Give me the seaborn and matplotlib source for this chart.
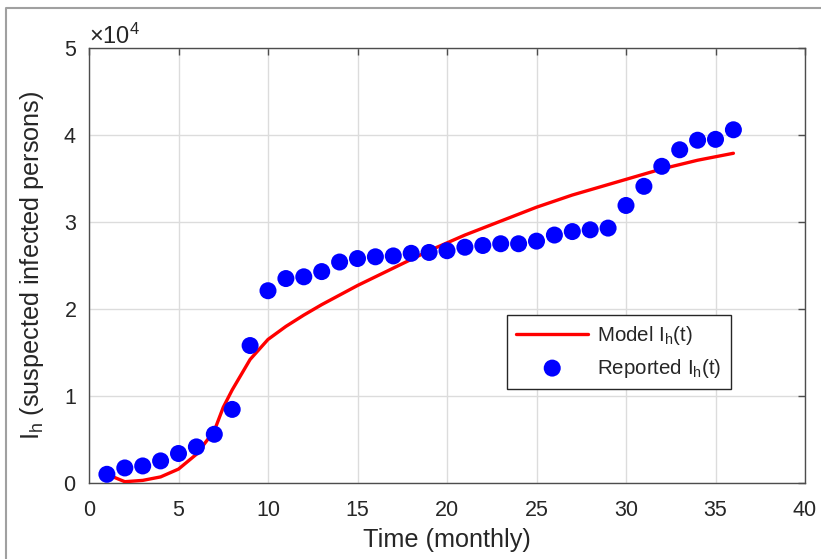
import numpy as np
import pandas as pd
import matplotlib
matplotlib.use("Agg")
import matplotlib.pyplot as plt
import seaborn as sns
from matplotlib.ticker import ScalarFormatter
from matplotlib.lines import Line2D

# ---- data ----
months = list(range(1, 37))
reported = [1000, 1730, 1960, 2540, 3390, 4150, 5600, 8460, 15800, 22100,
            23500, 23700, 24300, 25400, 25800, 26000, 26100, 26400, 26500, 26700,
            27100, 27300, 27500, 27500, 27800, 28500, 28900, 29100, 29300, 31900,
            34100, 36400, 38300, 39400, 39500, 40600]
model_t = [1, 2, 3, 4, 5, 6, 7, 7.5, 8, 9, 10, 11, 12, 13, 14, 15, 16, 17, 18, 19,
           20, 21, 22, 23, 24, 25, 26, 27, 28, 29, 30, 31, 32, 33, 34, 35, 36]
model = [1000, 150, 300, 700, 1600, 3300, 6000, 8700, 10700, 14200, 16500, 18000,
         19300, 20500, 21600, 22700, 23700, 24700, 25700, 26700, 27600, 28500,
         29300, 30100, 30900, 31700, 32400, 33100, 33700, 34300, 34900, 35500,
         36100, 36600, 37100, 37500, 37900]
xticks = [0, 5, 10, 15, 20, 25, 30, 35, 40]
yticks = [0, 10000, 20000, 30000, 40000, 50000]

sns.set_style("white")
FONT = 'Liberation Sans'
plt.rcParams['font.family'] = [FONT, 'DejaVu Sans']
plt.rcParams['mathtext.fontset'] = 'custom'
plt.rcParams['mathtext.rm'] = FONT
plt.rcParams['mathtext.it'] = FONT
plt.rcParams['mathtext.bf'] = FONT
txt = '#262626'

fig = plt.figure(figsize=(8.21, 5.59), dpi=100)
ax = fig.add_axes([89/821, 1 - 483/559, (805 - 89)/821, (483 - 48)/559])

df_model = pd.DataFrame({'t': model_t, 'I': model})
df_rep = pd.DataFrame({'t': months, 'I': reported})

sns.lineplot(data=df_model, x='t', y='I', ax=ax, color='#ff0000', lw=2.4,
             label=r'Model I$_\mathregular{h}$(t)', zorder=3)
sns.scatterplot(data=df_rep, x='t', y='I', ax=ax, color='#0000ff', s=150,
                edgecolor='none', label=r'Reported I$_\mathregular{h}$(t)', zorder=4)

ax.set_xlim(0, 40)
ax.set_ylim(0, 50000)
ax.set_xticks(xticks)
ax.set_yticks(yticks)
fmt = ScalarFormatter(useMathText=True)
fmt.set_powerlimits((0, 0))
ax.yaxis.set_major_formatter(fmt)
ax.yaxis.get_offset_text().set_fontsize(17)
ax.yaxis.get_offset_text().set_color(txt)

ax.grid(True, color='#dcdcdc', lw=1.0)
ax.set_axisbelow(True)
for s in ax.spines.values():
    s.set_color('#4d4d4d')
    s.set_linewidth(1.0)
ax.tick_params(direction='in', top=True, right=True, length=5, width=1.0,
               color='#4d4d4d', labelsize=15.5, labelcolor=txt, pad=9)
ax.tick_params(axis='x', pad=12)

ax.set_xlabel('Time (monthly)', fontsize=18.2, color=txt, labelpad=5)
ax.set_ylabel(r'I$_\mathregular{h}$ (suspected infected persons)', fontsize=18.2,
              color=txt, labelpad=12)

leg = ax.legend(loc='upper left', bbox_to_anchor=((507 - 89)/716, (483 - 315)/435),
                fontsize=14.8, frameon=True, fancybox=False, framealpha=1,
                edgecolor='#262626', handlelength=3.5, labelspacing=0.45,
                borderpad=0.45, handletextpad=0.45, borderaxespad=0)
leg.get_frame().set_linewidth(1.0)
for t in leg.get_texts():
    t.set_color(txt)

# figure border
fig.add_artist(Line2D([6/821, 6/821, 1.0], [0.0, 1 - 8/559, 1 - 8/559],
                      transform=fig.transFigure, color='#a0a0a0', lw=1.5))

fig.savefig('out.png', dpi=100)
